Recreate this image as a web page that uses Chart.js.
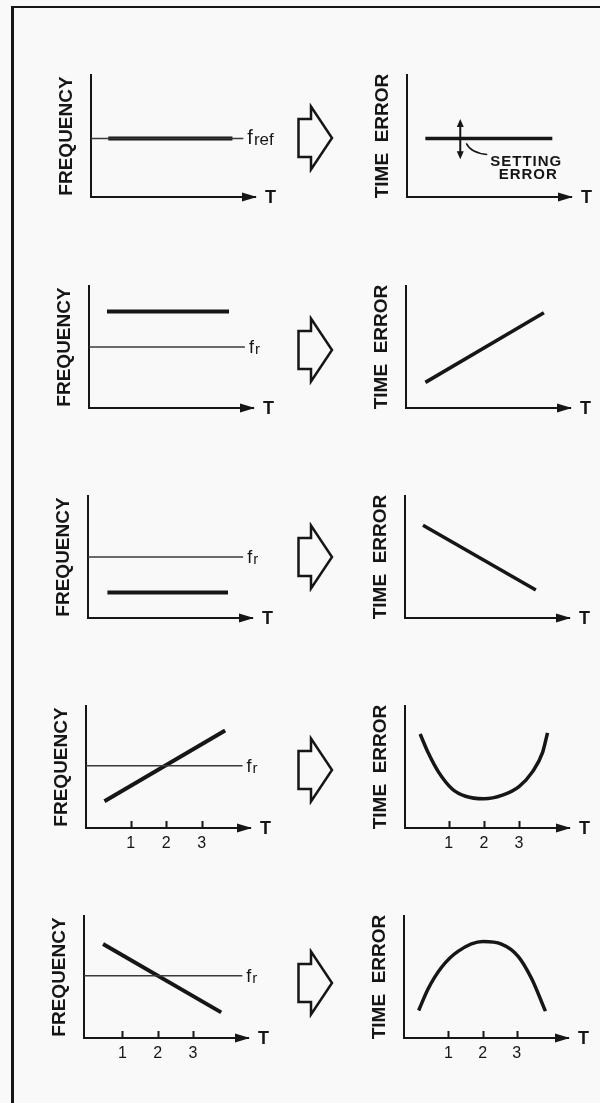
<!DOCTYPE html>
<html>
<head>
<meta charset="utf-8">
<script src="https://cdn.jsdelivr.net/npm/chart.js@4.4.1/dist/chart.umd.min.js"></script>
<style>
  html, body { margin: 0; padding: 0; width: 600px; height: 1103px; overflow: hidden; background: #f9f9f9; }
  #page { position: relative; width: 600px; height: 1103px; overflow: hidden; }
  #frame { position: absolute; left: 11px; top: 6px; width: 620px; height: 1120px;
           border-left: 3px solid #161616; border-top: 2px solid #161616; }
  canvas, svg { position: absolute; }
</style>
</head>
<body>
<div id="page"><div id="frame"></div></div>
<script>
// --- data (T in time units, values on a 0..10 scale) ---
const tickT = [1, 2, 3];

// row 1 : oscillator set on the reference frequency
const ref1T = [-0.25, 4.07], ref1F = [4.8, 4.8];
const freq1T = [0.24, 3.76], freq1F = [4.8, 4.8];
const err1T = [0.27, 3.87], err1E = [4.8, 4.8];
const setErrT = 1.26, setErrE = [3.1, 6.4];

// row 2 : frequency high
const ref2T = [-0.25, 4.17], ref2F = [5.0, 5.0];
const freq2T = [0.26, 3.72], freq2F = [7.9, 7.9];
const err2T = [0.3, 3.66], err2E = [2.1, 7.8];

// row 3 : frequency low
const ref3T = [-0.25, 4.15], ref3F = [5.0, 5.0];
const freq3T = [0.3, 3.72], freq3F = [2.1, 2.1];
const err3T = [0.26, 3.46], err3E = [7.6, 2.3];

// row 4 : frequency rising
const ref4T = [-0.26, 4.15], ref4F = [5.1, 5.1];
const freq4T = [0.26, 3.66], freq4F = [2.2, 8.0];
const err4T = [0.19, 0.43, 0.71, 1.10, 1.48, 2.0, 2.53, 3.0, 3.38, 3.67, 3.81];
const err4E = [7.7, 6.1, 4.6, 3.2, 2.6, 2.4, 2.7, 3.4, 4.6, 6.2, 7.8];

// row 5 : frequency falling
const ref5T = [-0.09, 4.4], ref5F = [5.1, 5.1];
const freq5T = [0.45, 3.8], freq5F = [7.7, 2.1];
const err5T = [0.13, 0.40, 0.80, 1.28, 2.01, 2.55, 3.04, 3.43, 3.84];
const err5E = [2.25, 4.0, 5.8, 7.1, 7.9, 7.7, 6.7, 4.9, 2.2];

// --- layout ---
const ink = '#161616';
const fam = '"Liberation Sans", Arial, sans-serif';
const leftAxisX = [91, 89, 88, 86, 84];
const rightAxisX = [407, 406, 405, 405, 404];
const axisBottom = [197, 408, 618, 828, 1038];
const leftRange = [[-0.25, 4.4], [-0.25, 4.4], [-0.25, 4.4], [-0.26, 4.36], [-0.09, 4.56]];
const rightRange = [[-0.25, 4.4], [-0.25, 4.4], [-0.25, 4.4], [-0.24, 4.42], [-0.3, 4.5]];
const bigArrowY = [138, 350, 557, 770, 983];

const page = document.getElementById('page');
const pts = (xs, ys) => xs.map((v, i) => ({ x: v, y: ys[i] }));

// axis arrow, T label, inward ticks, f_r label, setting-error marker
const sketch = {
  id: 'sketch',
  afterDraw(chart, args, o) {
    const { ctx, chartArea: a, scales: { x, y } } = chart;
    ctx.save();
    ctx.fillStyle = ink;
    ctx.strokeStyle = ink;

    ctx.beginPath();
    ctx.moveTo(a.right + 2, a.bottom);
    ctx.lineTo(a.right - 13, a.bottom - 4.5);
    ctx.lineTo(a.right - 13, a.bottom + 4.5);
    ctx.closePath();
    ctx.fill();

    ctx.font = 'bold 18px ' + fam;
    ctx.textBaseline = 'middle';
    ctx.textAlign = 'left';
    ctx.fillText('T', a.right + 10, a.bottom + 1);

    if (o.ticks) {
      ctx.lineWidth = 2;
      tickT.forEach(t => {
        const px = Math.round(x.getPixelForValue(t)) + 0.5;
        ctx.beginPath();
        ctx.moveTo(px, a.bottom);
        ctx.lineTo(px, a.bottom - 7);
        ctx.stroke();
      });
    }

    if (o.ref) {
      const px = x.getPixelForValue(o.ref.t) + 4;
      const py = y.getPixelForValue(o.ref.f);
      ctx.textBaseline = 'alphabetic';
      ctx.font = o.ref.size + 'px ' + fam;
      ctx.fillText('f', px, py + 6);
      const w = ctx.measureText('f').width;
      ctx.font = o.ref.subSize + 'px ' + fam;
      ctx.fillText(o.ref.sub, px + w + 1, py + 7);
    }

    if (o.setting) {
      const px = x.getPixelForValue(o.setting.t);
      const y1 = y.getPixelForValue(o.setting.e[1]);
      const y0 = y.getPixelForValue(o.setting.e[0]);
      const mid = y.getPixelForValue(o.setting.mid);
      ctx.lineWidth = 2;
      ctx.beginPath();
      ctx.moveTo(px, y1 + 4);
      ctx.lineTo(px, y0 - 4);
      ctx.stroke();
      ctx.beginPath();
      ctx.moveTo(px, y1); ctx.lineTo(px - 3.5, y1 + 8); ctx.lineTo(px + 3.5, y1 + 8); ctx.closePath();
      ctx.moveTo(px, y0); ctx.lineTo(px - 3.5, y0 - 8); ctx.lineTo(px + 3.5, y0 - 8); ctx.closePath();
      ctx.fill();
      ctx.lineWidth = 1.5;
      ctx.beginPath();
      ctx.moveTo(px + 6, mid + 5);
      ctx.quadraticCurveTo(px + 11, mid + 15, px + 27, mid + 16);
      ctx.stroke();
      ctx.font = 'bold 15px ' + fam;
      ctx.textAlign = 'center';
      if ('letterSpacing' in ctx) ctx.letterSpacing = '1px';
      ctx.fillText('SETTING', px + 66, mid + 23);
      ctx.fillText('ERROR', px + 68, mid + 36);
    }
    ctx.restore();
  }
};

function panel(axisX, bottom, range, title, datasets, extra) {
  const c = document.createElement('canvas');
  c.width = 240;
  c.height = 162;
  c.style.left = (axisX - 40) + 'px';
  c.style.top = (bottom - 132) + 'px';
  page.appendChild(c);
  return new Chart(c, {
    type: 'line',
    data: { datasets },
    plugins: [sketch],
    options: {
      responsive: false,
      animation: false,
      events: [],
      layout: { padding: { top: 10, right: 36, left: 0, bottom: 0 } },
      elements: { point: { radius: 0 } },
      plugins: { legend: { display: false }, tooltip: { enabled: false }, sketch: extra },
      scales: {
        x: {
          type: 'linear', min: range[0], max: range[1],
          grid: { display: false, drawTicks: false },
          border: { display: true, color: ink, width: 2 },
          ticks: { display: !!extra.ticks, padding: 6, color: ink, font: { family: fam, size: 16 } },
          afterBuildTicks: s => { s.ticks = tickT.map(v => ({ value: v })); },
          afterFit: s => { s.height = 30; }
        },
        y: {
          type: 'linear', min: 0, max: 10,
          grid: { display: false, drawTicks: false },
          border: { display: true, color: ink, width: 2 },
          ticks: { display: false },
          title: { display: true, text: title, color: ink,
                   font: { family: fam, size: 19, weight: 'bold' }, padding: { top: 4.6, bottom: 0 } },
          afterFit: s => { s.width = 40; }
        }
      }
    }
  });
}

const thin = (xs, ys) => ({ data: pts(xs, ys), borderColor: '#3a3a3a', borderWidth: 1.4, tension: 0 });
const thick = (xs, ys, w) => ({ data: pts(xs, ys), borderColor: ink, borderWidth: w || 4, borderCapStyle: 'butt', tension: 0 });
const curve = (xs, ys) => ({ data: pts(xs, ys), borderColor: ink, borderWidth: 3.5, cubicInterpolationMode: 'monotone' });

const leftRows = [
  [ref1T, ref1F, freq1T, freq1F],
  [ref2T, ref2F, freq2T, freq2F],
  [ref3T, ref3F, freq3T, freq3F],
  [ref4T, ref4F, freq4T, freq4F],
  [ref5T, ref5F, freq5T, freq5F]
];
leftRows.forEach((r, i) => {
  const row1 = i === 0;
  panel(leftAxisX[i], axisBottom[i], leftRange[i], 'FREQUENCY',
    [thin(r[0], r[1]), thick(r[2], r[3])],
    { ticks: i >= 3,
      ref: { t: r[0][1], f: r[1][1], sub: row1 ? 'ref' : 'r', size: row1 ? 20 : 18, subSize: row1 ? 17 : 15 } });
});

const rightRows = [
  thick(err1T, err1E, 3.5),
  thick(err2T, err2E, 3.5),
  thick(err3T, err3E, 3.5),
  curve(err4T, err4E),
  curve(err5T, err5E)
];
rightRows.forEach((ds, i) => {
  panel(rightAxisX[i], axisBottom[i], rightRange[i], 'TIME  ERROR', [ds],
    { ticks: i >= 3,
      setting: i === 0 ? { t: setErrT, e: setErrE, mid: err1E[0] } : null });
});

// hollow "leads to" arrows between the panels
const NS = 'http://www.w3.org/2000/svg';
bigArrowY.forEach(cy => {
  const s = document.createElementNS(NS, 'svg');
  s.setAttribute('width', '40');
  s.setAttribute('height', '70');
  s.style.left = '296px';
  s.style.top = (cy - 35) + 'px';
  const p = document.createElementNS(NS, 'path');
  p.setAttribute('d', 'M2.5,16 H15 V3.5 L36,35 L15,66.5 V54 H2.5 Z');
  p.setAttribute('fill', '#f9f9f9');
  p.setAttribute('stroke', ink);
  p.setAttribute('stroke-width', '2.5');
  p.setAttribute('stroke-linejoin', 'miter');
  s.appendChild(p);
  page.appendChild(s);
});
</script>
</body>
</html>
